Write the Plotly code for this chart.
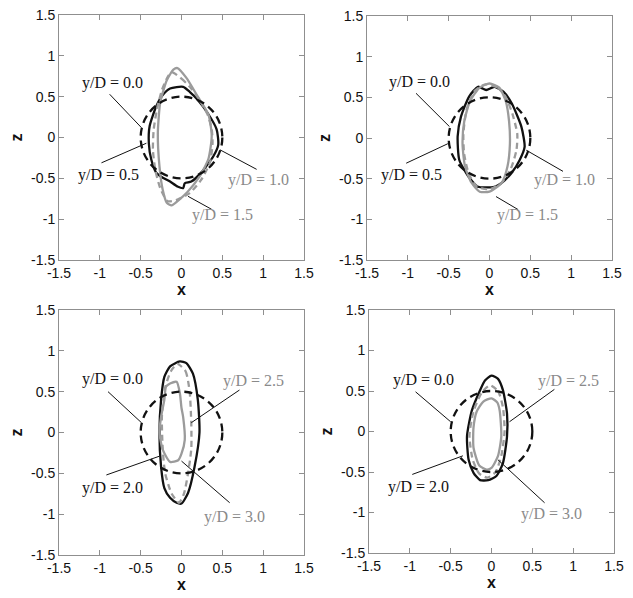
import plotly.graph_objects as go

# ---------------- data ----------------
R0 = 0.5  # y/D = 0.0 reference circle radius

# panel 1
p1_b05_x = [-0.14, 0.02, 0.10, 0.20, 0.32, 0.43, 0.45, 0.39, 0.24, 0.12, 0.04, 0.02, -0.05, -0.14, -0.25, -0.31, -0.37, -0.40, -0.39, -0.31, -0.23, -0.14]
p1_b05_z = [0.60, 0.62, 0.56, 0.46, 0.30, 0.10, -0.09, -0.23, -0.43, -0.54, -0.56, -0.62, -0.60, -0.54, -0.48, -0.43, -0.27, -0.07, 0.14, 0.38, 0.52, 0.60]
p1_g10_x = [-0.12, 0.00, 0.12, 0.22, 0.32, 0.37, 0.38, 0.35, 0.24, 0.10, -0.05, -0.17, -0.26, -0.32, -0.35, -0.34, -0.30, -0.24, -0.17, -0.12]
p1_g10_z = [0.80, 0.72, 0.60, 0.46, 0.28, 0.10, -0.07, -0.30, -0.52, -0.68, -0.76, -0.78, -0.62, -0.40, -0.15, 0.10, 0.35, 0.58, 0.74, 0.80]
p1_g15_x = [-0.05, 0.06, 0.20, 0.33, 0.37, 0.33, 0.22, 0.07, -0.12, -0.18, -0.23, -0.27, -0.29, -0.26, -0.18, -0.10, -0.05]
p1_g15_z = [0.85, 0.73, 0.50, 0.28, 0.02, -0.26, -0.48, -0.67, -0.83, -0.80, -0.64, -0.35, 0.05, 0.43, 0.70, 0.83, 0.85]

# panel 2
p2_b05_x = [-0.14, -0.04, 0.06, 0.17, 0.27, 0.39, 0.43, 0.37, 0.27, 0.14, 0.06, -0.14, -0.26, -0.37, -0.39, -0.35, -0.25, -0.14]
p2_b05_z = [0.63, 0.59, 0.63, 0.57, 0.43, 0.14, -0.11, -0.27, -0.43, -0.56, -0.60, -0.60, -0.47, -0.27, 0.02, 0.26, 0.51, 0.63]
p2_g10_x = [-0.05, 0.10, 0.20, 0.28, 0.34, 0.33, 0.26, 0.15, 0.00, -0.15, -0.25, -0.31, -0.32, -0.28, -0.18, -0.05]
p2_g10_z = [0.66, 0.62, 0.50, 0.30, 0.05, -0.15, -0.38, -0.55, -0.63, -0.60, -0.45, -0.20, 0.05, 0.35, 0.58, 0.66]
p2_g15_x = [0.00, 0.12, 0.20, 0.24, 0.25, 0.22, 0.15, 0.00, -0.12, -0.22, -0.30, -0.33, -0.31, -0.24, -0.12, 0.00]
p2_g15_z = [0.67, 0.62, 0.45, 0.20, -0.07, -0.35, -0.55, -0.66, -0.66, -0.55, -0.35, -0.07, 0.20, 0.45, 0.62, 0.67]

# panel 3
p3_b20_x = [-0.02, 0.06, 0.14, 0.20, 0.22, 0.16, 0.08, 0.00, -0.06, -0.14, -0.21, -0.25, -0.27, -0.25, -0.21, -0.14, -0.02]
p3_b20_z = [0.87, 0.85, 0.72, 0.40, 0.00, -0.42, -0.74, -0.87, -0.86, -0.80, -0.68, -0.42, 0.00, 0.40, 0.68, 0.81, 0.87]
p3_g25_x = [-0.05, 0.05, 0.10, 0.12, 0.12, 0.08, 0.03, -0.03, -0.12, -0.20, -0.23, -0.24, -0.20, -0.13, -0.05]
p3_g25_z = [0.84, 0.75, 0.50, 0.10, -0.20, -0.50, -0.75, -0.86, -0.75, -0.50, -0.20, 0.20, 0.55, 0.75, 0.84]
p3_g30_x = [-0.14, -0.06, -0.02, 0.00, 0.02, 0.04, 0.00, -0.04, -0.14, -0.23, -0.27, -0.25, -0.21, -0.19, -0.14]
p3_g30_z = [0.60, 0.62, 0.48, 0.30, 0.19, -0.09, -0.26, -0.34, -0.36, -0.21, 0.00, 0.19, 0.40, 0.56, 0.60]

# panel 4
p4_b20_x = [0.00, 0.08, 0.14, 0.19, 0.19, 0.14, 0.06, -0.04, -0.14, -0.22, -0.28, -0.30, -0.24, -0.14, -0.08, 0.00]
p4_b20_z = [0.69, 0.65, 0.51, 0.22, -0.06, -0.39, -0.55, -0.60, -0.60, -0.51, -0.35, -0.06, 0.26, 0.51, 0.63, 0.69]
p4_g25_x = [-0.02, 0.08, 0.14, 0.16, 0.12, 0.05, -0.05, -0.15, -0.23, -0.27, -0.22, -0.12, -0.02]
p4_g25_z = [0.57, 0.50, 0.30, 0.00, -0.30, -0.50, -0.57, -0.52, -0.35, -0.05, 0.25, 0.48, 0.57]
p4_g30_x = [0.00, 0.07, 0.10, 0.12, 0.08, 0.00, -0.06, -0.15, -0.22, -0.22, -0.18, -0.10, 0.00]
p4_g30_z = [0.41, 0.36, 0.26, -0.06, -0.30, -0.45, -0.47, -0.42, -0.20, 0.05, 0.25, 0.37, 0.41]

tick_vals = [-1.5, -1, -0.5, 0, 0.5, 1, 1.5]
tick_text = ["-1.5", "-1", "-0.5", "0", "0.5", "1", "1.5"]

# labels: (text, colour key, text x, text z, line x0, z0, x1, z1)
labels1 = [("y/D = 0.0", "k", -0.85, 0.67, -0.88, 0.53, -0.49, 0.12),
           ("y/D = 0.5", "k", -0.90, -0.455, -0.98, -0.31, -0.43, -0.07),
           ("y/D = 1.0", "g", 0.945, -0.52, 0.47, -0.15, 0.92, -0.39),
           ("y/D = 1.5", "g", 0.50, -0.945, 0.08, -0.72, 0.37, -0.88)]
labels2 = [("y/D = 0.0", "k", -0.86, 0.69, -0.90, 0.55, -0.49, 0.14),
           ("y/D = 0.5", "k", -0.95, -0.45, -1.02, -0.31, -0.51, -0.07),
           ("y/D = 1.0", "g", 0.92, -0.52, 0.45, -0.15, 0.90, -0.41),
           ("y/D = 1.5", "g", 0.47, -0.945, 0.08, -0.72, 0.35, -0.88)]
labels3 = [("y/D = 0.0", "k", -0.85, 0.65, -0.90, 0.50, -0.49, 0.12),
           ("y/D = 2.0", "k", -0.85, -0.68, -0.92, -0.52, -0.27, -0.29),
           ("y/D = 2.5", "g", 0.88, 0.63, 0.71, 0.52, 0.12, 0.12),
           ("y/D = 3.0", "g", 0.655, -1.03, 0.00, -0.35, 0.59, -0.86)]
labels4 = [("y/D = 0.0", "k", -0.83, 0.64, -0.93, 0.49, -0.50, 0.12),
           ("y/D = 2.0", "k", -0.90, -0.69, -0.97, -0.53, -0.35, -0.30),
           ("y/D = 2.5", "g", 0.94, 0.62, 0.77, 0.52, 0.22, 0.12),
           ("y/D = 3.0", "g", 0.73, -1.02, 0.08, -0.35, 0.65, -0.88)]

# ---------------- style / layout ----------------
BLACK = "#111111"
GREY = "#9b9b9b"
GREY_TXT = "#8a8a8a"
FRAME = "#8f8f8f"

# the page body has an 8px default margin; size the figure so it fits the window
OFF = 8
FIG_W, FIG_H = 633 - OFF, 598 - OFF


def fx(px):
    return (px - OFF) / FIG_W


def fy(py):
    return 1 - (py - OFF) / FIG_H


panels = [
    dict(dom_x=[fx(59), fx(304)], dom_y=[fy(260), fy(15)],
         curves=[(p1_b05_x, p1_b05_z, BLACK, "solid"), (p1_g10_x, p1_g10_z, GREY, "6px,4px"), (p1_g15_x, p1_g15_z, GREY, "solid")],
         labels=labels1),
    dict(dom_x=[fx(367), fx(612)], dom_y=[fy(260), fy(16)],
         curves=[(p2_b05_x, p2_b05_z, BLACK, "solid"), (p2_g10_x, p2_g10_z, GREY, "6px,4px"), (p2_g15_x, p2_g15_z, GREY, "solid")],
         labels=labels2),
    dict(dom_x=[fx(59), fx(304)], dom_y=[fy(555), fy(310)],
         curves=[(p3_b20_x, p3_b20_z, BLACK, "solid"), (p3_g25_x, p3_g25_z, GREY, "6px,4px"), (p3_g30_x, p3_g30_z, GREY, "solid")],
         labels=labels3),
    dict(dom_x=[fx(369), fx(614)], dom_y=[fy(553), fy(310)],
         curves=[(p4_b20_x, p4_b20_z, BLACK, "solid"), (p4_g25_x, p4_g25_z, GREY, "6px,4px"), (p4_g30_x, p4_g30_z, GREY, "solid")],
         labels=labels4),
]

fig = go.Figure()
shapes = []
annotations = []
axis_font = dict(family="Liberation Sans, Arial, sans-serif", size=14, color="#111111")
title_font = dict(family="Liberation Sans, Arial, sans-serif", size=16, color="#111111")

for i, p in enumerate(panels):
    n = "" if i == 0 else str(i + 1)
    xa, ya = "x" + n, "y" + n
    for (cx, cz, col, dash) in p["curves"]:
        fig.add_trace(go.Scatter(x=cx, y=cz, mode="lines", xaxis=xa, yaxis=ya,
                                 line=dict(color=col, width=2.3, dash=dash, shape="spline", smoothing=0.6),
                                 showlegend=False, hoverinfo="skip"))
    shapes.append(dict(type="circle", xref=xa, yref=ya, x0=-R0, x1=R0, y0=-R0, y1=R0,
                       line=dict(color=BLACK, width=2.3, dash="8px,5px"), layer="above"))
    for (txt, ck, tx, tz, lx0, lz0, lx1, lz1) in p["labels"]:
        shapes.append(dict(type="line", xref=xa, yref=ya, x0=lx0, y0=lz0, x1=lx1, y1=lz1,
                           line=dict(color=BLACK, width=1)))
        annotations.append(dict(x=tx, y=tz, xref=xa, yref=ya, text=txt, showarrow=False,
                                font=dict(family="Liberation Serif, Times New Roman, serif", size=16,
                                          color=BLACK if ck == "k" else GREY_TXT)))
    common = dict(range=[-1.5, 1.5], tickvals=tick_vals, ticktext=tick_text, ticks="inside",
                  ticklen=5, tickcolor=FRAME, showline=True, linecolor=FRAME, linewidth=1,
                  mirror="ticks", showgrid=False, zeroline=False, tickfont=axis_font,
                  automargin=False, ticklabeloverflow="allow")
    fig.layout["xaxis" + n] = dict(common, domain=p["dom_x"], anchor=ya,
                                   title=dict(text="<b>x</b>", font=title_font, standoff=0))
    fig.layout["yaxis" + n] = dict(common, domain=p["dom_y"], anchor=xa,
                                   title=dict(text="<b>z</b>", font=title_font, standoff=4))

fig.update_layout(width=FIG_W, height=FIG_H, margin=dict(l=0, r=0, t=0, b=0),
                  paper_bgcolor="white", plot_bgcolor="white",
                  shapes=shapes, annotations=annotations)
fig.write_html("out.html")
